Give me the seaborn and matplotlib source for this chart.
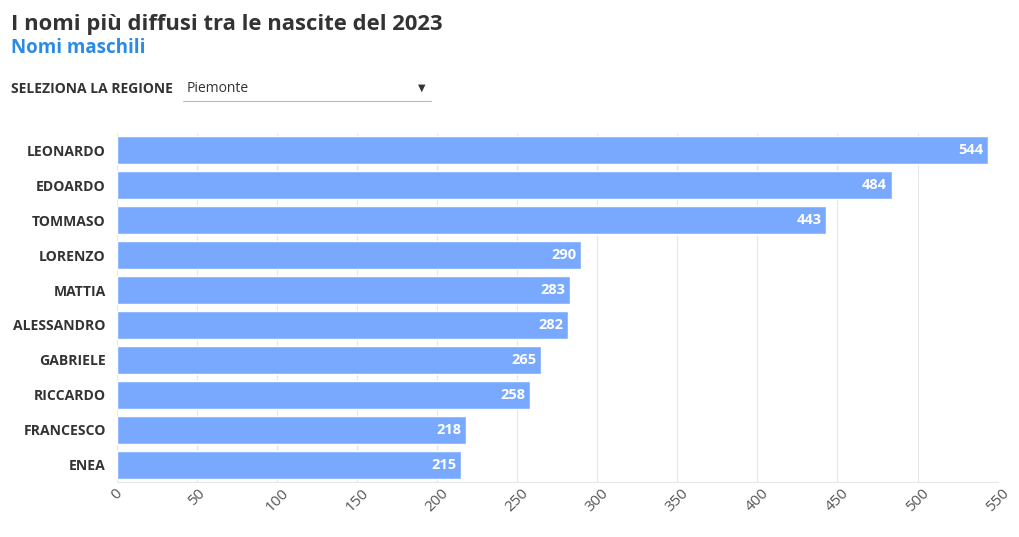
import matplotlib
matplotlib.use('Agg')
import matplotlib.pyplot as plt
import seaborn as sns
import pandas as pd

# -------------------------------
# Data
# -------------------------------
names = ["LEONARDO", "EDOARDO", "TOMMASO", "LORENZO", "MATTIA",
         "ALESSANDRO", "GABRIELE", "RICCARDO", "FRANCESCO", "ENEA"]
counts = [544, 484, 443, 290, 283, 282, 265, 258, 218, 215]
x_ticks = [0, 50, 100, 150, 200, 250, 300, 350, 400, 450, 500, 550]

title = "I nomi più diffusi tra le nascite del 2023"
subtitle = "Nomi maschili"
region_label = "SELEZIONA LA REGIONE"
region = "Piemonte"

df = pd.DataFrame({"nome": names, "nati": counts})

# -------------------------------
# Style
# -------------------------------
sns.set_style("white")
plt.rcParams['font.family'] = ['Open Sans', 'DejaVu Sans']

bar_color = "#79a9ff"
text_dark = "#333333"

fig = plt.figure(figsize=(10.2, 5.37), dpi=100)
ax = fig.add_axes([0.1147, 0.1024, 0.8633, 0.65])

sns.barplot(data=df, x="nati", y="nome", color=bar_color, saturation=1,
            width=0.8, ax=ax)

ax.set_xlim(0, 550)
ax.set_xticks(x_ticks)
ax.set_xticklabels([str(t) for t in x_ticks], rotation=45, fontsize=11,
                   color="#555555")
ax.set_xlabel("")
ax.set_ylabel("")
ax.tick_params(axis="y", length=0, pad=8, labelsize=10.1, labelcolor=text_dark)
ax.tick_params(axis="x", length=0, pad=3)
for lbl in ax.get_yticklabels():
    lbl.set_fontweight("bold")

ax.grid(axis="x", color="#e8e8e8", linewidth=0.8)
ax.set_axisbelow(True)
for side in ["top", "right", "left"]:
    ax.spines[side].set_visible(False)
ax.spines["bottom"].set_color("#e8e8e8")

# value labels inside bar ends
for i, v in enumerate(counts):
    ax.text(v - 3, i, str(v), ha="right", va="center", color="white",
            fontsize=10.5, fontweight="bold")

# -------------------------------
# Header
# -------------------------------
fig.text(0.011, 0.955, title, fontsize=15.8, fontweight="bold",
         color=text_dark, va="center")
fig.text(0.011, 0.91, subtitle, fontsize=13.5, fontweight="bold",
         color="#2a8be6", va="center")
fig.text(0.011, 0.835, region_label, fontsize=10, fontweight="bold",
         color=text_dark, va="center")
fig.text(0.183, 0.835, region, fontsize=10, color=text_dark, va="center")
fig.add_artist(plt.Line2D([0.179, 0.423], [0.812, 0.812], color="#bbbbbb",
                          linewidth=0.8, transform=fig.transFigure))
fig.text(0.413, 0.835, "▼", fontsize=7, color=text_dark, va="center",
         ha="center")

plt.savefig("out.png", dpi=100)
plt.close()
